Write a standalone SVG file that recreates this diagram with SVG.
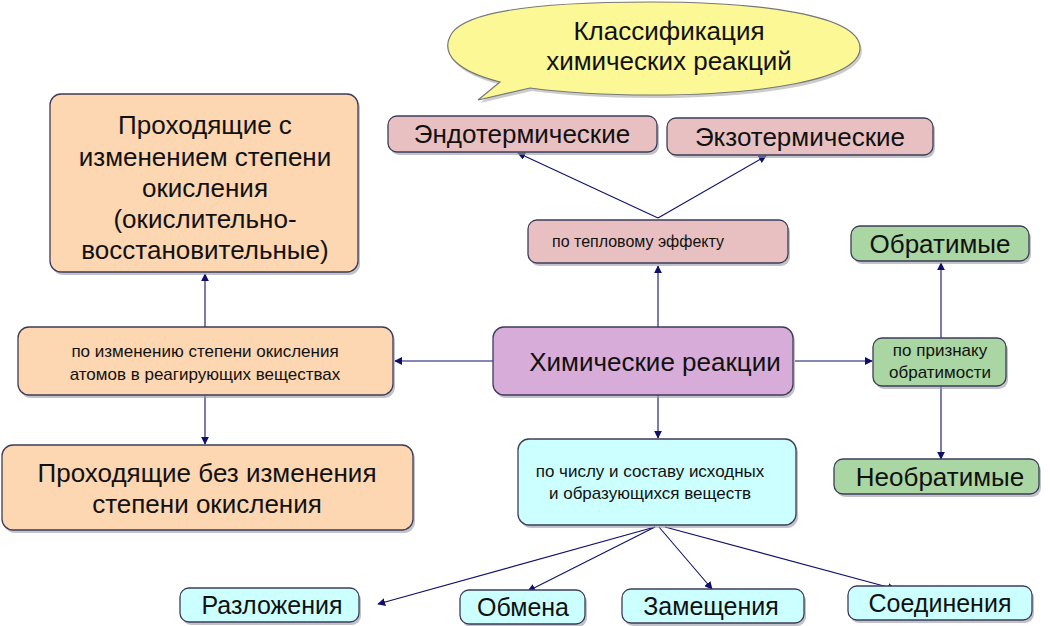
<svg xmlns="http://www.w3.org/2000/svg" width="1050" height="626" viewBox="0 0 1050 626">
<defs>
<marker id="ah" viewBox="0 0 10 10" refX="9" refY="5" markerWidth="8" markerHeight="8" markerUnits="userSpaceOnUse" orient="auto">
<path d="M0,0 L10,5 L0,10 z" fill="#10106a"/>
</marker>
<style>
.sh{fill:#9a9aa8;opacity:0.6}
.b{stroke:#3c3c5a;stroke-width:1.3}
.pink{fill:#e8c0c2}
.purple{fill:#d8acd8}
.peach{fill:#fdd6b2}
.green{fill:#a9d6a2}
.cyan{fill:#ccffff}
.t{font-family:"Liberation Sans",Arial,sans-serif;fill:#111;text-anchor:middle}
.c{stroke:#10106a;stroke-width:1.1;fill:none;marker-end:url(#ah)}
</style>
</defs>
<rect width="1050" height="626" fill="#fff"/>

<g id="title">
<path d="M452,33 C470,8 560,2 650,2 C760,2 860,15 860,48 C860,80 760,95 650,95 C600,95 560,92 530,88 L478,100 L500,82 C460,72 438,55 452,33 Z" fill="#999" opacity="0.5" transform="translate(2,3)"/>
<path d="M452,33 C470,8 560,2 650,2 C760,2 860,15 860,48 C860,80 760,95 650,95 C600,95 560,92 530,88 L478,100 L500,82 C460,72 438,55 452,33 Z" fill="#fbf895" stroke="#777" stroke-width="1.2"/>
<text class="t" x="669" y="40" font-size="26">Классификация</text>
<text class="t" x="669" y="70" font-size="26">химических реакций</text>
</g>

<g id="connectors">
<line class="c" x1="658" y1="218" x2="518" y2="153"/>
<line class="c" x1="658" y1="218" x2="766" y2="156"/>
<line class="c" x1="658" y1="327" x2="658" y2="266"/>
<line class="c" x1="493" y1="361" x2="395" y2="361"/>
<line class="c" x1="205" y1="327" x2="205" y2="274"/>
<line class="c" x1="205" y1="395" x2="205" y2="444"/>
<line class="c" x1="795" y1="361" x2="872" y2="361"/>
<line class="c" x1="941" y1="338" x2="941" y2="263"/>
<line class="c" x1="941" y1="386" x2="941" y2="459"/>
<line class="c" x1="658" y1="395" x2="658" y2="438"/>
<line class="c" x1="655" y1="527" x2="378" y2="604"/>
<line class="c" x1="655" y1="527" x2="528" y2="591"/>
<line class="c" x1="659" y1="527" x2="712" y2="589"/>
<line class="c" x1="665" y1="527" x2="895" y2="589"/>
</g>

<g id="endo">
<rect class="sh" x="390" y="119" width="269" height="36" rx="9"/>
<rect class="b pink" x="388" y="116" width="269" height="36" rx="9"/>
<text class="t" x="522" y="143" font-size="26">Эндотермические</text>
</g>
<g id="exo">
<rect class="sh" x="669" y="121" width="266" height="37" rx="9"/>
<rect class="b pink" x="667" y="118" width="266" height="37" rx="9"/>
<text class="t" x="800" y="146" font-size="26">Экзотермические</text>
</g>
<g id="thermal">
<rect class="sh" x="530" y="223" width="260" height="43" rx="9"/>
<rect class="b pink" x="528" y="220" width="260" height="43" rx="9"/>
<text class="t" x="638" y="247" font-size="16">по тепловому эффекту</text>
</g>

<g id="redox">
<rect class="sh" x="52" y="97" width="308" height="178" rx="11"/>
<rect class="b peach" x="50" y="94" width="308" height="178" rx="11"/>
<text class="t" x="205" y="134" font-size="26">Проходящие с</text>
<text class="t" x="205" y="166" font-size="26">изменением степени</text>
<text class="t" x="205" y="197" font-size="26">окисления</text>
<text class="t" x="205" y="228" font-size="26">(окислительно-</text>
<text class="t" x="205" y="259" font-size="26">восстановительные)</text>
</g>
<g id="oxidation">
<rect class="sh" x="20" y="330" width="375" height="68" rx="11"/>
<rect class="b peach" x="18" y="327" width="375" height="68" rx="11"/>
<text class="t" x="205" y="357" font-size="17">по изменению степени окисления</text>
<text class="t" x="205" y="380" font-size="17">атомов в реагирующих веществах</text>
</g>
<g id="nonredox">
<rect class="sh" x="4" y="448" width="411" height="85" rx="11"/>
<rect class="b peach" x="2" y="445" width="411" height="85" rx="11"/>
<text class="t" x="207" y="482" font-size="26">Проходящие без изменения</text>
<text class="t" x="207" y="513" font-size="26">степени окисления</text>
</g>

<g id="chem">
<rect class="sh" x="495" y="330" width="300" height="68" rx="11"/>
<rect class="b purple" x="493" y="327" width="300" height="68" rx="11"/>
<text class="t" x="655" y="371" font-size="26">Химические реакции</text>
</g>

<g id="reversibility">
<rect class="sh" x="875" y="341" width="133" height="48" rx="9"/>
<rect class="b green" x="873" y="338" width="133" height="48" rx="9"/>
<text class="t" x="940" y="356" font-size="17">по признаку</text>
<text class="t" x="940" y="378" font-size="17">обратимости</text>
</g>
<g id="reversible">
<rect class="sh" x="853" y="229" width="178" height="35" rx="9"/>
<rect class="b green" x="851" y="226" width="178" height="35" rx="9"/>
<text class="t" x="940" y="253" font-size="26">Обратимые</text>
</g>
<g id="irreversible">
<rect class="sh" x="836" y="462" width="205" height="35" rx="9"/>
<rect class="b green" x="834" y="459" width="205" height="35" rx="9"/>
<text class="t" x="940" y="486" font-size="26">Необратимые</text>
</g>

<g id="composition">
<rect class="sh" x="520" y="442" width="278" height="86" rx="11"/>
<rect class="b cyan" x="518" y="439" width="278" height="86" rx="11"/>
<text class="t" x="650" y="477" font-size="17">по числу и составу исходных</text>
<text class="t" x="650" y="499" font-size="17">и образующихся веществ</text>
</g>

<g id="decomposition">
<rect class="sh" x="182" y="591" width="179" height="34" rx="9"/>
<rect class="b cyan" x="180" y="588" width="179" height="34" rx="9"/>
<text class="t" x="272" y="614" font-size="25">Разложения</text>
</g>
<g id="exchange">
<rect class="sh" x="462" y="593" width="125" height="34" rx="9"/>
<rect class="b cyan" x="460" y="590" width="125" height="34" rx="9"/>
<text class="t" x="523" y="616" font-size="25">Обмена</text>
</g>
<g id="substitution">
<rect class="sh" x="624" y="592" width="182" height="34" rx="9"/>
<rect class="b cyan" x="622" y="589" width="182" height="34" rx="9"/>
<text class="t" x="711" y="615" font-size="25">Замещения</text>
</g>
<g id="combination">
<rect class="sh" x="850" y="589" width="184" height="34" rx="9"/>
<rect class="b cyan" x="848" y="586" width="184" height="34" rx="9"/>
<text class="t" x="940" y="612" font-size="25">Соединения</text>
</g>
</svg>
